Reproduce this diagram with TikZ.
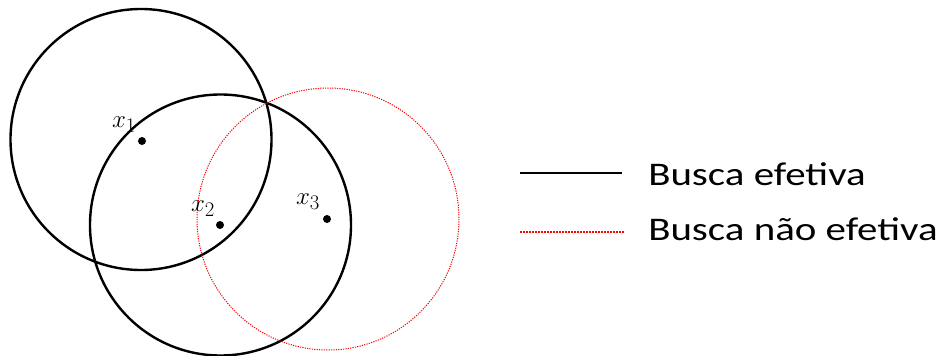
\documentclass[tikz,border=0pt]{standalone}
\usepackage{fontspec}
\setmainfont{Carlito}
\begin{document}
\begin{tikzpicture}[x=1pt,y=-1pt,
  effcirc/.style={draw=black,line width=2.4pt},
  neffcirc/.style={draw=red,line width=1pt,dash pattern=on 1.2pt off 1.2pt},
  ptdot/.style={circle,fill=black,inner sep=0pt,minimum size=8pt},
  ptlabel/.style={inner sep=0pt,font=\fontsize{28}{32}\selectfont},
  legtext/.style={anchor=base west,inner sep=0pt,xscale=1.24,font=\fontsize{33}{38}\selectfont}]
\useasboundingbox (0,0) rectangle (943,356);
\draw[effcirc] (141,139.5) circle (130.5);
\draw[effcirc] (220.5,225) circle (130.5);
\draw[neffcirc] (328,219) circle (131);
\node[ptdot] (p1) at (142,141) {};
\node[ptdot] (p2) at (220,225) {};
\node[ptdot] (p3) at (327,219) {};
\node[ptlabel] (l1) at (124,125) {$x_1$};
\node[ptlabel] (l2) at (203,209) {$x_2$};
\node[ptlabel] (l3) at (308,202) {$x_3$};
\coordinate (a1) at (520,173);
\coordinate (a2) at (622,173);
\coordinate (b1) at (520,232);
\coordinate (b2) at (624,232);
\draw[line width=2pt] (a1) -- (a2);
\draw[red,line width=1.5pt,dash pattern=on 1.5pt off 1.5pt] (b1) -- (b2);
\node[legtext] (t1) at (648,185) {Busca efetiva};
\node[legtext] (t2) at (648,240) {Busca não efetiva};
\end{tikzpicture}
\end{document}
